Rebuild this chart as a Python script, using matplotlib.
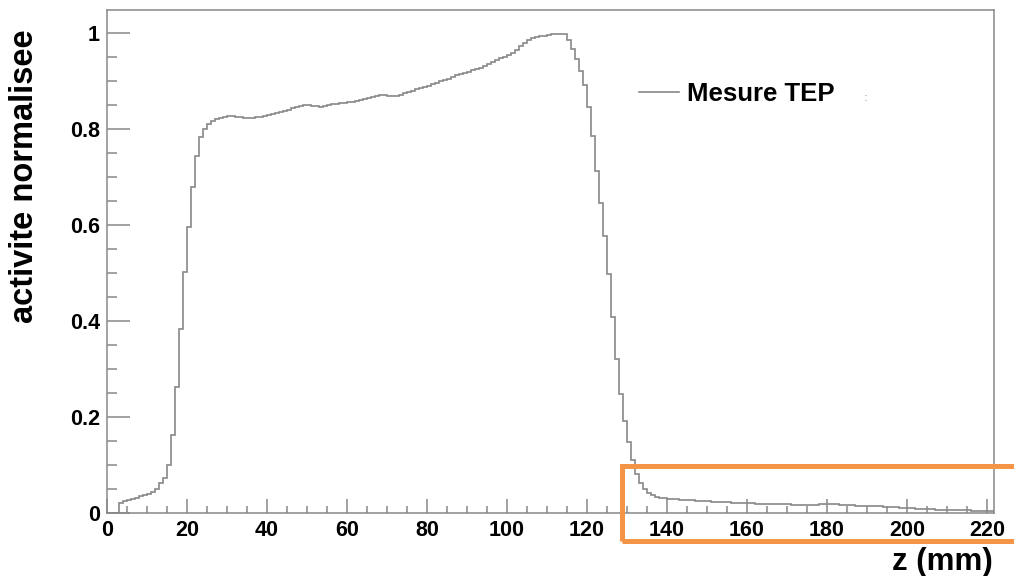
import numpy as np
import matplotlib
matplotlib.use("Agg")
import matplotlib.pyplot as plt
from matplotlib.patches import Rectangle
from matplotlib.ticker import MultipleLocator

# ---- data (histogram, 1 mm bins from 0 to 222 mm) ----
bin_edges_mm = np.arange(0, 223, 1)
activite = [
    0.000, 0.000, 0.000, 0.021, 0.024, 0.026, 0.028, 0.031, 0.034, 0.037,   # 0-9
    0.040, 0.043, 0.050, 0.062, 0.072, 0.100, 0.163, 0.262, 0.384, 0.502,   # 10-19
    0.596, 0.679, 0.743, 0.783, 0.800, 0.810, 0.816, 0.820, 0.823, 0.825,   # 20-29
    0.826, 0.826, 0.825, 0.824, 0.823, 0.823, 0.823, 0.824, 0.825, 0.827,   # 30-39
    0.829, 0.831, 0.833, 0.835, 0.837, 0.840, 0.843, 0.846, 0.848, 0.849,   # 40-49
    0.849, 0.848, 0.847, 0.846, 0.847, 0.849, 0.851, 0.853, 0.854, 0.855,   # 50-59
    0.856, 0.857, 0.859, 0.861, 0.863, 0.865, 0.867, 0.869, 0.870, 0.870,   # 60-69
    0.869, 0.869, 0.869, 0.871, 0.874, 0.877, 0.880, 0.883, 0.886, 0.888,   # 70-79
    0.890, 0.893, 0.896, 0.899, 0.902, 0.905, 0.909, 0.912, 0.915, 0.917,   # 80-89
    0.919, 0.922, 0.924, 0.928, 0.932, 0.936, 0.940, 0.944, 0.947, 0.950,   # 90-99
    0.954, 0.958, 0.964, 0.972, 0.980, 0.985, 0.989, 0.992, 0.993, 0.994,   # 100-109
    0.996, 0.997, 0.998, 0.999, 0.998, 0.985, 0.967, 0.946, 0.921, 0.891,   # 110-119
    0.846, 0.785, 0.712, 0.645, 0.576, 0.497, 0.407, 0.321, 0.248, 0.192,   # 120-129
    0.148, 0.109, 0.081, 0.061, 0.050, 0.042, 0.036, 0.033, 0.031, 0.030,   # 130-139
    0.029, 0.028, 0.028, 0.027, 0.027, 0.026, 0.026, 0.025, 0.025, 0.025,   # 140-149
    0.024, 0.023, 0.023, 0.022, 0.022, 0.022, 0.021, 0.021, 0.020, 0.020,   # 150-159
    0.020, 0.020, 0.019, 0.019, 0.019, 0.019, 0.018, 0.018, 0.018, 0.018,   # 160-169
    0.018, 0.017, 0.017, 0.017, 0.017, 0.017, 0.017, 0.017, 0.018, 0.018,   # 170-179
    0.018, 0.018, 0.018, 0.017, 0.017, 0.016, 0.016, 0.015, 0.015, 0.015,   # 180-189
    0.014, 0.014, 0.013, 0.013, 0.012, 0.012, 0.011, 0.011, 0.010, 0.010,   # 190-199
    0.009, 0.009, 0.008, 0.008, 0.007, 0.007, 0.007, 0.006, 0.006, 0.006,   # 200-209
    0.006, 0.005, 0.005, 0.005, 0.005, 0.005, 0.004, 0.004, 0.004, 0.004,   # 210-219
    0.004, 0.004,                                                           # 220-221
]
x_ticks = [0, 20, 40, 60, 80, 100, 120, 140, 160, 180, 200, 220]
y_ticks = [0, 0.2, 0.4, 0.6, 0.8, 1.0]
y_ticklabels = ["0", "0.2", "0.4", "0.6", "0.8", "1"]
legend_label = "Mesure TEP"
x_label = "z (mm)"
y_label = "activite normalisee"

W, H = 1014, 576
plt.rcParams['font.family'] = ['Liberation Sans', 'DejaVu Sans']
plt.rcParams['font.weight'] = 'bold'
fig = plt.figure(figsize=(W / 100, H / 100), dpi=100)

left, right, top, bottom = 107, 994, 10, 512.7
ax = fig.add_axes([left / W, 1 - bottom / H, (right - left) / W, (bottom - top) / H])

grey = '#888888'
ax.stairs(activite, bin_edges_mm, color=grey, lw=1.2, label=legend_label)

ax.set_xlim(0, 221.75)
ax.set_ylim(0, 1.048)

for s in ax.spines.values():
    s.set_color(grey)
    s.set_linewidth(1.1)

ax.set_xticks(x_ticks)
ax.set_xticklabels([str(t) for t in x_ticks])
ax.set_yticks(y_ticks)
ax.set_yticklabels(y_ticklabels)
ax.xaxis.set_minor_locator(MultipleLocator(5))
ax.yaxis.set_minor_locator(MultipleLocator(0.05))

ax.tick_params(axis='x', which='major', direction='in', length=10, width=1.1,
               color=grey, labelsize=15.5, pad=5, top=False)
ax.tick_params(axis='x', which='minor', direction='in', length=5, width=1.1,
               color=grey, top=False)
ax.tick_params(axis='y', which='major', direction='in', length=16.5, width=1.1,
               color=grey, labelsize=15.5, pad=5, right=False)
ax.tick_params(axis='y', which='minor', direction='in', length=7.2, width=1.1,
               color=grey, right=False)
for lab in ax.get_xticklabels() + ax.get_yticklabels():
    lab.set_fontweight('bold')

# axis titles (ROOT style: at the end of the axes)
fig.text(993 / W, 1 - 562 / H, x_label, ha='right', va='center',
         fontsize=22.5, fontweight='bold')
fig.text(25 / W, 1 - 29 / H, y_label, ha='center', va='top', rotation=90,
         fontsize=23.5, fontweight='bold')

# legend
leg = ax.legend(loc='center left', bbox_to_anchor=(639 / W, 1 - 94 / H),
                bbox_transform=fig.transFigure, frameon=False,
                prop={'size': 18.5, 'weight': 'bold'}, handlelength=1.55,
                handletextpad=0.32, borderpad=0, borderaxespad=0)
for h in leg.legend_handles:
    h.set_linewidth(1.2)
fig.text(866 / W, 1 - 98 / H, ":", ha='center', va='center', fontsize=8,
         color='#bbbbbb')

# orange highlight box
rect = Rectangle((621.5 / W, 1 - 541 / H), (1030 - 621.5) / W, (541 - 465.5) / H,
                 transform=fig.transFigure, fill=False, edgecolor='#f39447',
                 linewidth=3.6, clip_on=False)
fig.add_artist(rect)

fig.savefig('out.png', dpi=100)
